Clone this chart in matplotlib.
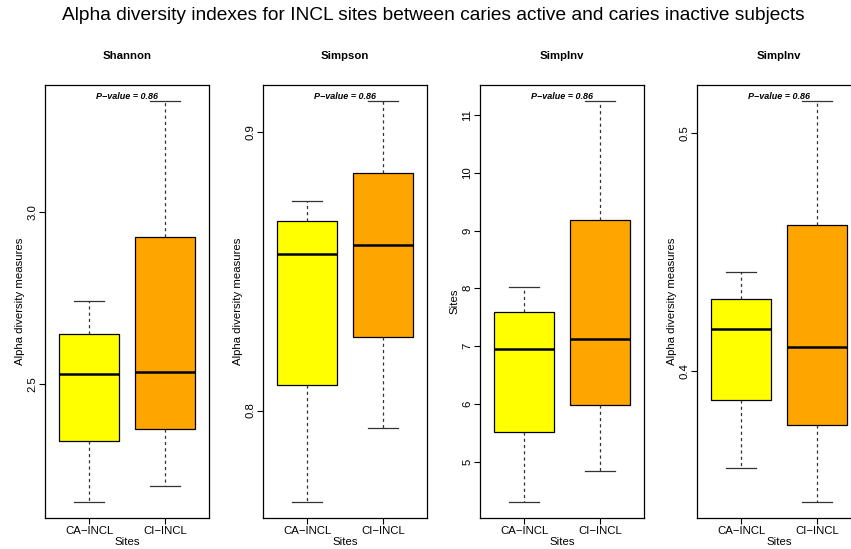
import matplotlib.pyplot as plt

plt.rcParams['font.family'] = ['Liberation Sans', 'DejaVu Sans']

groups = ['CA\u2212INCL', 'CI\u2212INCL']
box_colors = ['#FFFF00', '#FFA500']

panel_titles = ['Shannon', 'Simpson', 'SimpInv', 'SimpInv']
panel_ylabels = ['Alpha diversity measures', 'Alpha diversity measures',
                 'Sites', 'Alpha diversity measures']
p_values = [0.86, 0.86, 0.86, 0.86]

# five-number summaries per index: (whislo, q1, med, q3, whishi) for CA, CI
shannon_ca = [2.158, 2.335, 2.529, 2.645, 2.741]
shannon_ci = [2.204, 2.370, 2.536, 2.929, 3.323]
simpson_ca = [0.7672, 0.8093, 0.8560, 0.8679, 0.8753]
simpson_ci = [0.7937, 0.8265, 0.8594, 0.8853, 0.9110]
simpinv_ca = [4.30, 5.52, 6.95, 7.596, 8.024]
simpinv_ci = [4.844, 5.98, 7.116, 9.18, 11.243]
even_ca = [0.3591, 0.3877, 0.4177, 0.4302, 0.4414]
even_ci = [0.3449, 0.3772, 0.4098, 0.4614, 0.5133]

panels = [(shannon_ca, shannon_ci), (simpson_ca, simpson_ci),
          (simpinv_ca, simpinv_ci), (even_ca, even_ci)]
y_ticks = [[2.5, 3.0], [0.8, 0.9], [5, 6, 7, 8, 9, 10, 11], [0.4, 0.5]]
y_ticklabels = [['2.5', '3.0'], ['0.8', '0.9'],
                ['5', '6', '7', '8', '9', '10', '11'], ['0.4', '0.5']]

fs = 8.2

fig = plt.figure(figsize=(8.51, 5.49), dpi=100)
fig.text(0.509, 0.972,
         'Alpha diversity indexes for INCL sites between caries active and caries inactive subjects',
         ha='center', va='center', fontsize=13.8)

lefts = [45, 263, 480, 697]
for i, (ca, ci) in enumerate(panels):
    ax = fig.add_axes([lefts[i] / 851, 1 - 518 / 549, 164 / 851, 433 / 549])
    stats = []
    for name, s in zip(groups, (ca, ci)):
        stats.append({'label': name, 'whislo': s[0], 'q1': s[1], 'med': s[2],
                      'q3': s[3], 'whishi': s[4]})
    bp = ax.bxp(stats, positions=[1, 2], widths=0.8, patch_artist=True,
                showfliers=False,
                boxprops=dict(edgecolor='black', linewidth=0.9),
                medianprops=dict(color='black', linewidth=1.8),
                whiskerprops=dict(color='#333333', linewidth=0.9, linestyle=(0, (2.5, 2.5))),
                capprops=dict(color='#333333', linewidth=0.9),
                capwidths=0.4)
    for patch, c in zip(bp['boxes'], box_colors):
        patch.set_facecolor(c)

    lo = min(ca[0], ci[0])
    hi = max(ca[4], ci[4])
    pad = 0.04 * (hi - lo)
    ax.set_ylim(lo - pad, hi + pad)
    ax.set_xlim(0.42, 2.58)

    ax.set_yticks(y_ticks[i])
    ax.set_yticklabels(y_ticklabels[i], rotation=90, va='center', fontsize=fs)
    ax.set_xticks([1, 2])
    ax.set_xticklabels(groups, fontsize=fs)
    ax.tick_params(axis='y', length=4, width=0.8, pad=1.5)
    ax.tick_params(axis='x', length=4, width=0.8, pad=2)
    for sp in ax.spines.values():
        sp.set_linewidth(0.9)

    ax.set_title(panel_titles[i], fontsize=fs, fontweight='bold', pad=19)
    ax.set_ylabel(panel_ylabels[i], fontsize=fs, labelpad=2)
    ax.set_xlabel('Sites', fontsize=fs)
    ax.xaxis.set_label_coords(0.5, -0.045)

    ax.text(1.5, hi, f'P\u2212value = {p_values[i]:.2f}', ha='center', va='bottom',
            fontsize=6.5, fontweight='bold', fontstyle='italic')

fig.savefig('out.png', dpi=100)
